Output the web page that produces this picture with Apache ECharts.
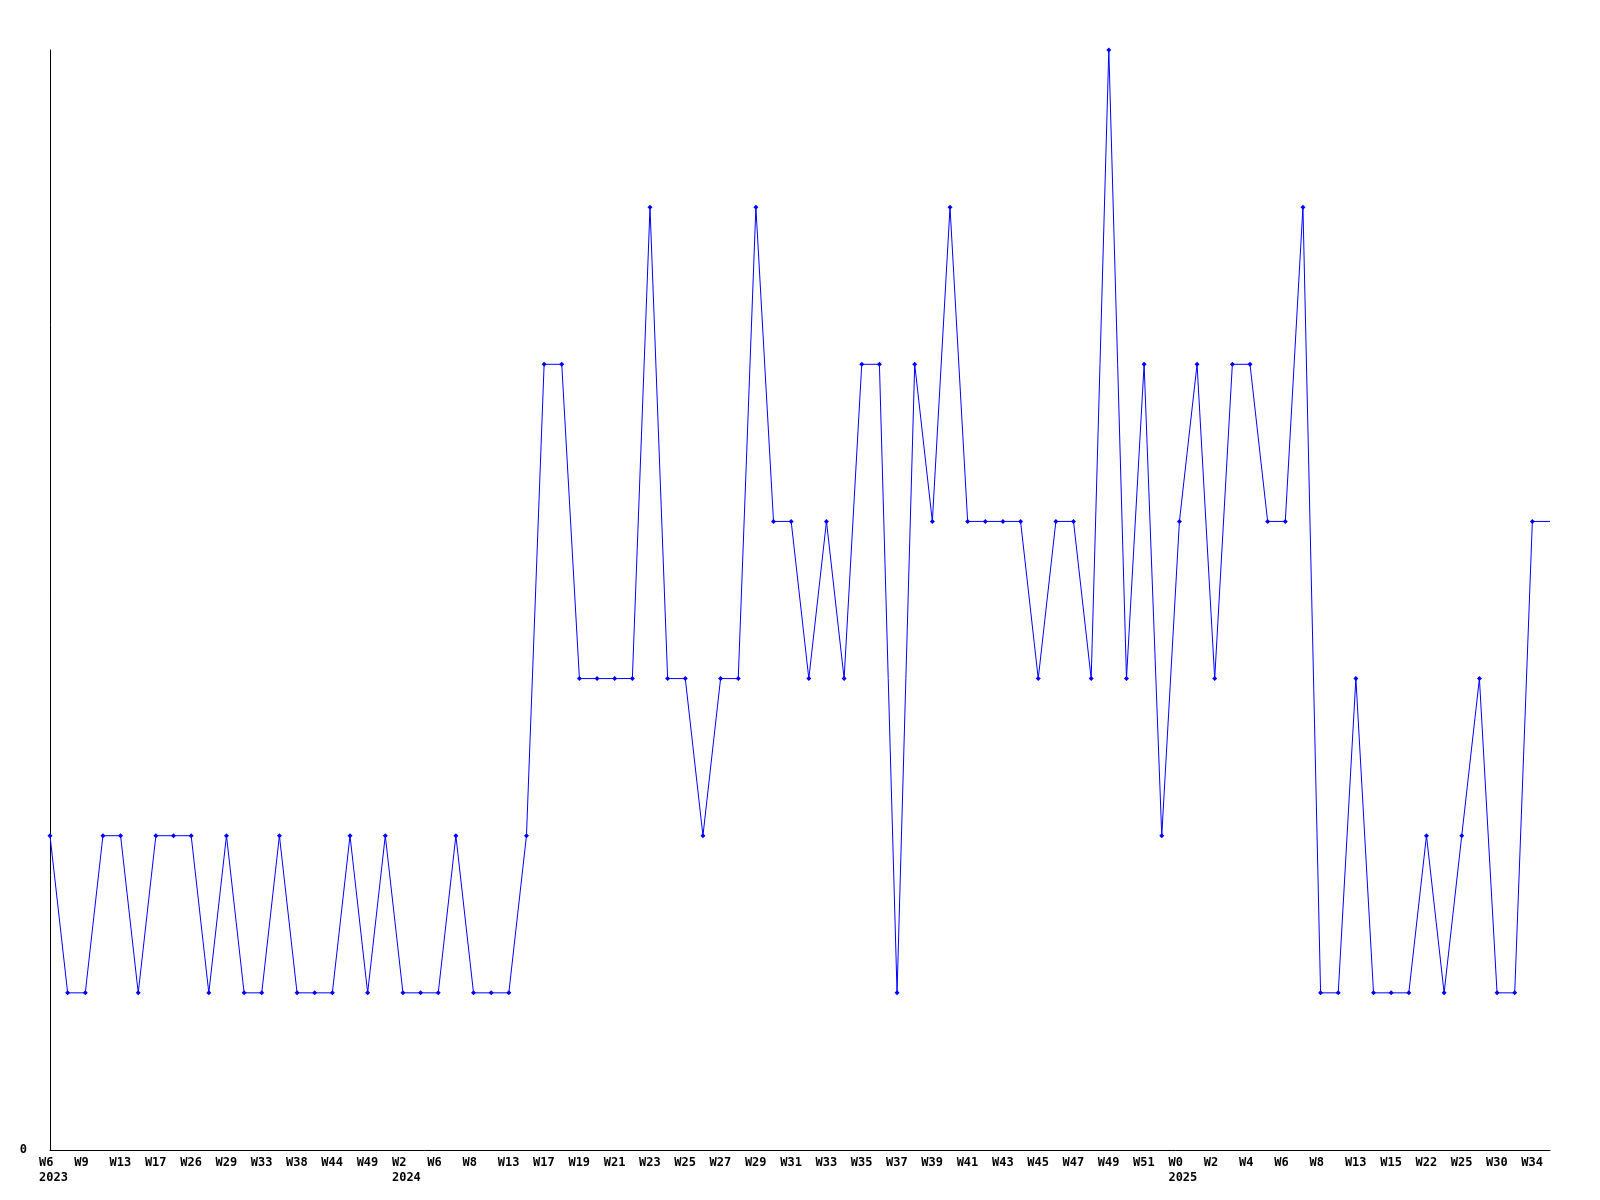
<!DOCTYPE html>
<html>
<head>
<meta charset="utf-8">
<script src="https://cdn.jsdelivr.net/npm/echarts@6/dist/echarts.min.js"></script>
<style>html,body{margin:0;padding:0;background:#fff}#c{width:1600px;height:1200px}</style>
</head>
<body>
<div id="c"></div>
<script>
var weeks = ['W6','W8','W9','W11','W13','W15','W17','W22','W26','W27','W29','W31','W33','W35','W38','W41','W44','W47','W49','W51',
  'W2','W4','W6','W7','W8','W10','W13','W15','W17','W18','W19','W20','W21','W22','W23','W24','W25','W26','W27','W28','W29','W30',
  'W31','W32','W33','W34','W35','W36','W37','W38','W39','W40','W41','W42','W43','W44','W45','W46','W47','W48','W49','W50','W51','W52',
  'W0','W1','W2','W3','W4','W5','W6','W7','W8','W11','W13','W14','W15','W19','W22','W24','W25','W27','W30','W32','W34','W35'];
var years = [];
for (var i = 0; i < weeks.length; i++) years.push(i < 20 ? '2023' : (i < 64 ? '2024' : '2025'));
var values = [2,1,1,2,2,1,2,2,2,1,2,1,1,2,1,1,1,2,1,2,
  1,1,1,2,1,1,1,2,5,5,3,3,3,3,6,3,3,2,3,3,6,4,4,3,4,3,5,5,1,5,4,6,4,4,4,4,3,4,4,3,7,3,5,2,
  4,5,3,5,5,4,4,6,1,1,3,1,1,1,2,1,2,3,1,1,4,4];

var chart = echarts.init(document.getElementById('c'));
var font = {fontFamily: 'DejaVu Sans Mono', fontWeight: 'bold', fontSize: 12, color: '#000'};
chart.setOption({
  animation: false,
  grid: {left: 50, right: 50, top: 50, bottom: 50},
  xAxis: {
    type: 'category',
    data: weeks,
    boundaryGap: false,
    axisLine: {show: true, lineStyle: {color: '#000', width: 1}},
    axisTick: {show: false},
    splitLine: {show: false},
    axisLabel: Object.assign({
      interval: 1,
      margin: 5,
      lineHeight: 15,
      align: 'left',
      padding: [0, 0, 0, -11],
      formatter: function (v, idx) {
        if (idx === 0 || years[idx] !== years[idx - 1]) return v + '\n' + years[idx];
        return v;
      }
    }, font)
  },
  yAxis: {
    type: 'value',
    min: 0, max: 7, interval: 7,
    axisLine: {show: true, lineStyle: {color: '#000', width: 1}},
    axisTick: {show: false},
    splitLine: {show: false},
    axisLabel: Object.assign({
      margin: 23,
      formatter: function (v) { return v === 0 ? '0' : ''; }
    }, font)
  },
  series: [{
    type: 'line',
    data: values.map(function (v, i) { return i === values.length - 1 ? {value: v, symbol: 'none'} : v; }),
    symbol: 'diamond',
    symbolSize: 5,
    showAllSymbol: true,
    lineStyle: {color: '#0000ff', width: 1},
    itemStyle: {color: '#0000ff'}
  }]
});
</script>
</body>
</html>
